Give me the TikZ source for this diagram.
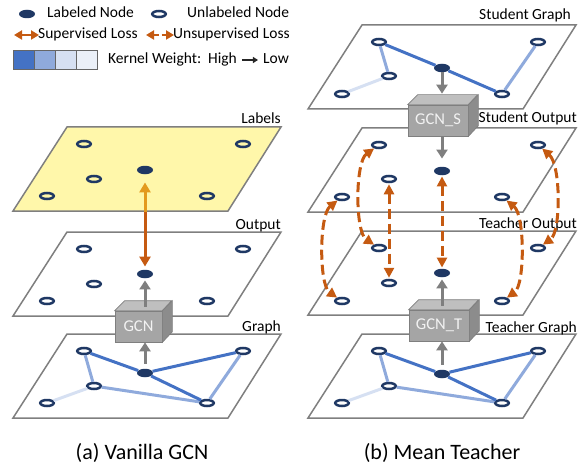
\documentclass[tikz,border=0pt]{standalone}
\usepackage{fontspec}
\setmainfont{Carlito}
\usepackage{xcolor}
\usetikzlibrary{arrows.meta}
\usetikzlibrary{shapes.geometric, calc, positioning}
\definecolor{navy}{HTML}{1F3864}
\definecolor{kdark}{HTML}{4472C4}
\definecolor{kmid}{HTML}{8FAADC}
\definecolor{klight}{HTML}{D6E0F2}
\definecolor{kpale}{HTML}{EBF0F8}
\definecolor{planegray}{HTML}{7F7F7F}
\definecolor{labelyellow}{HTML}{FFF7AA}
\definecolor{suporange}{HTML}{C55A11}
\definecolor{supgold}{HTML}{E39A1E}
\definecolor{boxfront}{HTML}{A5A5A5}
\definecolor{boxtop}{HTML}{BFBFBF}
\definecolor{boxside}{HTML}{8C8C8C}

\begin{document}
\begin{tikzpicture}[x=1pt, y=-1pt]
	\tikzstyle{unlnode}=[ellipse, draw=navy, line width=2.5pt, minimum width=13.5pt, minimum height=6pt, inner sep=0pt]
	\tikzstyle{labnode}=[ellipse, fill=navy, minimum width=16pt, minimum height=8.5pt, inner sep=0pt]
	\tikzstyle{plane}=[draw=planegray, line width=1.5pt]
	\tikzstyle{kedge}=[line width=3pt]
	\tikzstyle{gcnbox}=[draw=planegray, line width=0.7pt, fill=boxfront, minimum height=31pt, inner sep=0pt, text=white!95!black, font=\fontsize{16.5}{18}\selectfont]
	\tikzstyle{gcnarrow}=[-{Triangle[width=11pt,length=9pt]}, line width=3pt, planegray]
	\tikzstyle{suparrow}=[-{Triangle[width=11pt,length=10pt]}, line width=3pt]
	\tikzstyle{unsup}=[{Triangle[width=10pt,length=10pt]}-{Triangle[width=10pt,length=10pt]}, line width=3pt, suporange, dash pattern=on 10pt off 5pt]
	\tikzstyle{ptext}=[anchor=base east, inner sep=0pt, font=\fontsize{15.5}{18}\selectfont]
	\tikzstyle{ltext}=[anchor=west, inner sep=0pt, text height=11pt, text depth=3pt, font=\fontsize{15.5}{18}\selectfont]
	\tikzstyle{capt}=[inner sep=0pt, font=\fontsize{22}{24}\selectfont]
	\useasboundingbox (0,0) rectangle (585,465);

	%%% LEGEND %%%
	\node[labnode] (leglab) at (27,14) {};
	\node[ltext] (leglabt) at (47,14) {Labeled Node};
	\node[unlnode] (legunl) at (159,14) {};
	\node[ltext] (legunlt) at (187,14) {Unlabeled Node};
	%supervised / unsupervised loss
	\coordinate (legs1) at (14,35);
	\coordinate (legs2) at (39,35);
	\draw[{Triangle[width=9pt,length=8pt]}-{Triangle[width=9pt,length=8pt]}, line width=2.5pt, suporange] (legs1) -- (legs2);
	\node[ltext] (legsupt) at (38,35) {Supervised Loss};
	\coordinate (legu1) at (146,35);
	\coordinate (legu2) at (174,35);
	\draw[{Triangle[width=9pt,length=8pt]}-{Triangle[width=9pt,length=8pt]}, line width=2.5pt, suporange, dash pattern=on 5pt off 3pt] (legu1) -- (legu2);
	\node[ltext] (legunsupt) at (173,35) {Unsupervised Loss};
	%kernel weight squares
	\foreach \c [count=\i] in {kdark,kmid,klight,kpale}
		\draw[draw=black!60, line width=0.8pt, fill=\c] ({13+21*(\i-1)},50) rectangle ++(21,19);
	\node[ltext] (kwt) at (108,60) {Kernel Weight:\ \ High};
	\node[ltext, right=26pt of kwt] (kwlow) {Low};
	\draw[-{Triangle[width=6pt,length=5pt]}, line width=1.4pt, black!85, shorten <=5pt, shorten >=5pt] (kwt) -- (kwlow);

	%%% (a) VANILLA GCN %%%
	%labels plane
	\begin{scope}[shift={(0,127)}]
		\draw[plane, fill=labelyellow] (67,0) -- (281,0) -- (228,84) -- (13,84) -- cycle;
		\foreach \n/\x/\y in {a/84/17, b/243/17, d/94/52, e/47/69, f/207/69}
			\node[unlnode] (l\n) at (\x,\y) {};
		\node[labnode] (lc) at (145,43) {};
	\end{scope}
	\node[ptext] (tlabels) at (281,124) {Labels};
	%output plane
	\begin{scope}[shift={(0,232)}]
		\draw[plane] (67,0) -- (281,0) -- (228,84) -- (13,84) -- cycle;
		\foreach \n/\x/\y in {a/84/17, b/243/17, d/94/52, e/47/69, f/207/69}
			\node[unlnode] (o\n) at (\x,\y) {};
		\node[labnode] (oc) at (145,42) {};
	\end{scope}
	\node[ptext] (toutput) at (281,229) {Output};
	%graph plane
	\begin{scope}[shift={(0,334)}]
		\draw[plane] (67,0) -- (281,0) -- (228,84) -- (13,84) -- cycle;
		\foreach \n/\x/\y in {a/84/17, b/243/17, d/94/52, e/47/69, f/207/69}
			\node[unlnode] (g\n) at (\x,\y) {};
		\node[labnode] (gc) at (145,39) {};
	\end{scope}
	\node[ptext] (tgraph) at (281,331) {Graph};
	%graph edges
	\draw[kedge, klight] (ge) -- (gd);
	\draw[kedge, kmid] (ga) -- (gd) -- (gf) -- (gb);
	\draw[kedge, kdark] (ga) -- (gc) -- (gb);
	\draw[kedge, kdark] (gc) -- (gf);
	%gcn box
	\node[gcnbox, minimum width=47pt] (gcn) at (138.5,326.5) {GCN};
	\draw[planegray, line width=0.7pt, fill=boxtop] (gcn.north west) -- ++(10,-10) -- ++(47,0) -- (gcn.north east) -- cycle;
	\draw[planegray, line width=0.7pt, fill=boxside] (gcn.north east) -- ++(10,-10) -- ++(0,31) -- (gcn.south east) -- cycle;
	\coordinate (gcntop) at ($(gcn.north)+(5,-4)$);
	%arrows through gcn
	\draw[gcnarrow, shorten <=5pt] (gc) -- (gc |- gcn.south);
	\draw[gcnarrow, shorten >=2pt] (oc |- gcntop) -- (oc);
	%supervised loss
	\coordinate (supmid) at (145,212);
	\draw[suparrow, supgold, shorten >=8pt] (supmid) -- (lc);
	\draw[suparrow, suporange, shorten >=3pt] (supmid) -- (oc);
	\node[capt] (capa) at (142,453) {(a) Vanilla GCN};

	%%% (b) MEAN TEACHER %%%
	%student graph plane
	\begin{scope}[shift={(295,25)}]
		\draw[plane] (67,0) -- (281,0) -- (228,84) -- (13,84) -- cycle;
		\foreach \n/\x/\y in {a/84/17, b/243/17, d/94/51, e/47/69, f/207/69}
			\node[unlnode] (s\n) at (\x,\y) {};
		\node[labnode] (sc) at (147,43) {};
	\end{scope}
	\node[ptext] (tsgraph) at (571,20) {Student Graph};
	\draw[kedge, klight] (se) -- (sd);
	\draw[kedge, kmid] (sa) -- (sd);
	\draw[kedge, kmid] (sb) -- (sf);
	\draw[kedge, kdark] (sa) -- (sc) -- (sf);
	%student output plane
	\begin{scope}[shift={(295,128)}]
		\draw[plane] (67,0) -- (281,0) -- (228,84) -- (13,84) -- cycle;
		\foreach \n/\x/\y in {a/84/17, b/243/17, d/94/51, e/47/69, f/207/69}
			\node[unlnode] (so\n) at (\x,\y) {};
		\node[labnode] (soc) at (147,43) {};
	\end{scope}
	%teacher output plane
	\begin{scope}[shift={(295,231)}]
		\draw[plane] (67,0) -- (281,0) -- (228,84) -- (13,84) -- cycle;
		\foreach \n/\x/\y in {a/84/17, b/243/17, d/94/52, e/47/70, f/207/70}
			\node[unlnode] (to\n) at (\x,\y) {};
		\node[labnode] (toc) at (147,42) {};
	\end{scope}
	\node[ptext] (tsoutput) at (577,123) {Student Output};
	\node[ptext] (ttoutput) at (577,228) {Teacher Output};
	%teacher graph plane
	\begin{scope}[shift={(295,334)}]
		\draw[plane] (67,0) -- (281,0) -- (228,84) -- (13,84) -- cycle;
		\foreach \n/\x/\y in {a/84/17, b/243/17, d/94/52, e/47/69, f/207/69}
			\node[unlnode] (t\n) at (\x,\y) {};
		\node[labnode] (tc) at (147,40) {};
	\end{scope}
	\node[ptext] (ttgraph) at (577,332) {Teacher Graph};
	\draw[kedge, klight] (te) -- (td);
	\draw[kedge, kmid] (ta) -- (td) -- (tf) -- (tb);
	\draw[kedge, kdark] (ta) -- (tc) -- (tb);
	\draw[kedge, kdark] (tc) -- (tf);
	%gcn_s box
	\node[gcnbox, minimum width=60pt] (gcns) at (438,120.5) {GCN\_S};
	\draw[planegray, line width=0.7pt, fill=boxtop] (gcns.north west) -- ++(10,-10) -- ++(60,0) -- (gcns.north east) -- cycle;
	\draw[planegray, line width=0.7pt, fill=boxside] (gcns.north east) -- ++(10,-10) -- ++(0,31) -- (gcns.south east) -- cycle;
	\coordinate (gcnstop) at ($(gcns.north)+(5,-10)$);
	%gcn_t box
	\node[gcnbox, minimum width=60pt] (gcnt) at (439,325.5) {GCN\_T};
	\draw[planegray, line width=0.7pt, fill=boxtop] (gcnt.north west) -- ++(10,-10) -- ++(60,0) -- (gcnt.north east) -- cycle;
	\draw[planegray, line width=0.7pt, fill=boxside] (gcnt.north east) -- ++(10,-10) -- ++(0,31) -- (gcnt.south east) -- cycle;
	\coordinate (gcnttop) at ($(gcnt.north)+(5,-4)$);
	%arrows through gcn_s and gcn_t
	\draw[gcnarrow, shorten >=1pt] (sc) -- (sc |- gcnstop);
	\draw[gcnarrow, shorten <=1pt, shorten >=8pt] (soc |- gcns.south) -- (soc);
	\draw[gcnarrow, shorten >=2pt] (toc |- gcnttop) -- (toc);
	\draw[gcnarrow, shorten <=5pt] (tc) -- (tc |- gcnt.south);
	%unsupervised loss
	\draw[unsup, shorten <=1pt, shorten >=1pt] (soc) -- (toc);
	\draw[unsup, shorten <=1pt, shorten >=1pt] (sod) -- (tod);
	\draw[unsup] (soa) .. controls (355,162) and (355,232) .. (toa);
	\draw[unsup] (soe) .. controls (319,215) and (319,285) .. (toe);
	\draw[unsup] (sob) .. controls (561,165) and (561,232) .. (tob);
	\draw[unsup] (sof) .. controls (525,215) and (525,285) .. (tof);
	\node[capt] (capb) at (442,453) {(b) Mean Teacher};
\end{tikzpicture}
\end{document}
